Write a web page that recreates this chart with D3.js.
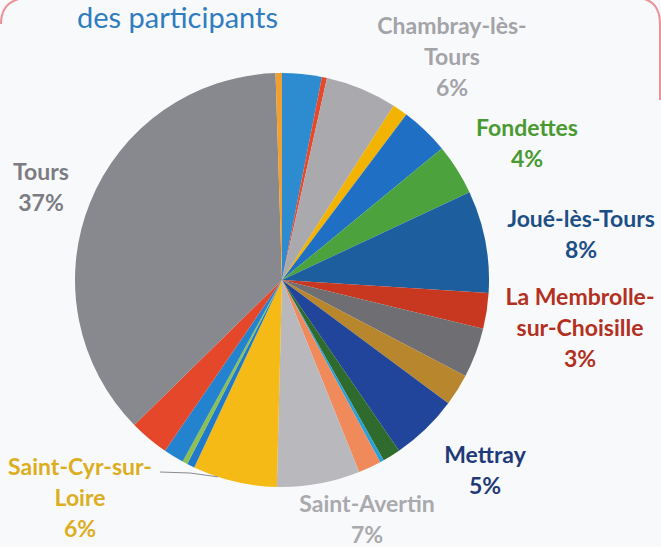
<!DOCTYPE html>
<html>
<head>
<meta charset="utf-8">
<script src="https://cdn.jsdelivr.net/npm/d3@7"></script>
<style>
  body { margin: 0; background: #f8f9fb; }
  svg { display: block; }
  text { font-family: Lato, "Open Sans", sans-serif; }
</style>
</head>
<body>
<svg id="chart"></svg>
<script>
// SVG size params
var width = 661;
var height = 547;

// Communes (only the big ones get a label on the chart)
var communes = ["", "", "Chambray-lès-Tours", "", "", "Fondettes", "Joué-lès-Tours",
  "La Membrolle-sur-Choisille", "", "", "Mettray", "", "", "", "Saint-Avertin",
  "Saint-Cyr-sur-Loire", "", "", "", "", "Tours", ""];

// Share of participants, read clockwise from 12 o'clock (%)
var shares = [3.1, 0.4, 5.6, 1.2, 3.8, 4.0, 8.0, 2.8, 3.9, 2.5, 5.3, 1.4, 0.3, 1.8,
  6.5, 6.6, 0.6, 0.4, 1.6, 3.1, 37.0, 0.5];

// Slice colours
var colors = ["#2d8ccf", "#e8482a", "#a9a9ae", "#f2b400", "#1f6fc5", "#4ca33e", "#1d5e9e",
  "#c8371f", "#6e6e73", "#b8862c", "#20459a", "#2e6b2c", "#2aa0d8", "#f08a5a",
  "#b9b9bd", "#f5ba15", "#1f7acb", "#8cc050", "#2383cf", "#e5472a", "#88888f", "#f0a030"];

// Label text lines and percentages
var labelLines = {
  "Chambray-lès-Tours": ["Chambray-lès-", "Tours"],
  "Fondettes": ["Fondettes"],
  "Joué-lès-Tours": ["Joué-lès-Tours"],
  "La Membrolle-sur-Choisille": ["La Membrolle-", "sur-Choisille"],
  "Mettray": ["Mettray"],
  "Saint-Avertin": ["Saint-Avertin"],
  "Saint-Cyr-sur-Loire": ["Saint-Cyr-sur-", "Loire"],
  "Tours": ["Tours"]
};
var labelPct = {
  "Chambray-lès-Tours": "6%", "Fondettes": "4%", "Joué-lès-Tours": "8%",
  "La Membrolle-sur-Choisille": "3%", "Mettray": "5%", "Saint-Avertin": "7%",
  "Saint-Cyr-sur-Loire": "6%", "Tours": "37%"
};

// Label layout (centre x, first line y) and colours
var labelPos = {
  "Chambray-lès-Tours": [452, 34], "Fondettes": [527, 136], "Joué-lès-Tours": [581, 227],
  "La Membrolle-sur-Choisille": [580, 305], "Mettray": [485, 463], "Saint-Avertin": [367, 512],
  "Saint-Cyr-sur-Loire": [80, 475], "Tours": [41, 180]
};
var labelColor = {
  "Chambray-lès-Tours": "#a3a3a8", "Fondettes": "#4a9a32", "Joué-lès-Tours": "#1c4f86",
  "La Membrolle-sur-Choisille": "#b3301e", "Mettray": "#1f3a78", "Saint-Avertin": "#a9a9ae",
  "Saint-Cyr-sur-Loire": "#dcae1e", "Tours": "#7c7c82"
};

var cx = 282, cy = 280, radius = 207;
var lineHeight = 31;

var svg = d3.select("#chart")
  .attr("width", width)
  .attr("height", height);

svg.append("rect")
  .attr("width", width)
  .attr("height", height)
  .attr("fill", "#f8f9fb");

// Red frame of the slide, only its top corners are in the photo
svg.append("path")
  .attr("d", "M1,24 Q1,1 24,-2 M640,-2 Q660,1 660,24 L660,100")
  .attr("fill", "none")
  .attr("stroke", "#e36a6c")
  .attr("stroke-width", 2)
  .attr("opacity", 0.7);

// Title (second line, the first one is cut off by the photo)
svg.append("text")
  .attr("x", 77)
  .attr("y", 28)
  .attr("font-size", 29)
  .attr("fill", "#2f7dbf")
  .text("des participants");

var pie = d3.pie().sort(null).value(d => d);
var arcs = pie(shares);
var arc = d3.arc().innerRadius(0).outerRadius(radius);

var g = svg.append("g")
  .attr("transform", "translate(" + cx + "," + cy + ")");

g.selectAll("path")
  .data(arcs)
  .enter().append("path")
    .attr("d", arc)
    .attr("fill", (d, i) => colors[i]);

// Leader line for Saint-Cyr-sur-Loire
var cyr = arcs[communes.indexOf("Saint-Cyr-sur-Loire")];
var a = cyr.startAngle + (cyr.endAngle - cyr.startAngle) * 0.7;
var rim = [cx + radius * Math.sin(a), cy - radius * Math.cos(a)];
svg.append("polyline")
  .attr("points", [[160, 472], [190, 473], rim].map(p => p.join(",")).join(" "))
  .attr("fill", "none")
  .attr("stroke", "#8a8a90")
  .attr("stroke-width", 1);

// Data labels
var labelled = communes.filter(c => c !== "");
labelled.forEach(function(name) {
  var pos = labelPos[name];
  var lines = labelLines[name].concat([labelPct[name]]);
  var t = svg.append("text")
    .attr("text-anchor", "middle")
    .attr("font-size", 23)
    .attr("font-weight", "bold")
    .attr("fill", labelColor[name]);
  lines.forEach(function(line, i) {
    t.append("tspan")
      .attr("x", pos[0])
      .attr("y", pos[1] + i * lineHeight)
      .text(line);
  });
});
</script>
</body>
</html>
